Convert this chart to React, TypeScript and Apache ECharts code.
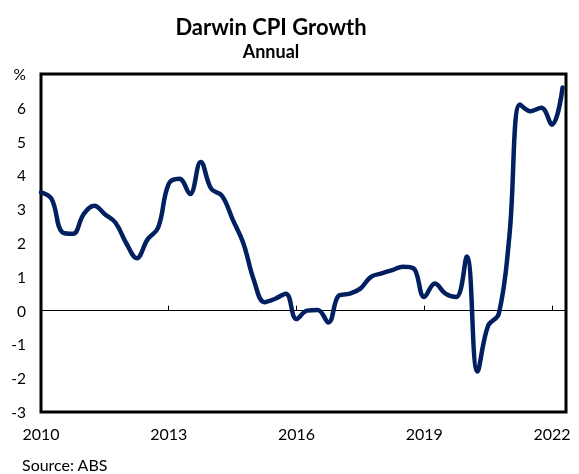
import React, { useEffect, useRef } from "react";
import * as echarts from "echarts";

const START_YEAR = 2010; // first quarter of the series (Mar 2010)
const cpiGrowth = [
  3.5, 3.3, 2.32, 2.27, 2.85, 3.1, 2.85, 2.6, 2.0, 1.55,
  2.1, 2.45, 3.75, 3.9, 3.45, 4.4, 3.6, 3.4, 2.7, 2.0,
  0.9, 0.25, 0.35, 0.5, -0.25, 0.0, 0.02, -0.35, 0.45, 0.5,
  0.65, 1.0, 1.1, 1.2, 1.3, 1.25, 0.4, 0.8, 0.5, 0.4,
  1.6, -1.8, -0.45, -0.1, 2.2, 6.1, 5.9, 6.0, 5.5, 6.6,
];
const xTickYears = [2010, 2013, 2016, 2019, 2022];
const yTicks = [-3, -2, -1, 0, 1, 2, 3, 4, 5, 6, 7];

const TITLE = "Darwin CPI Growth";
const SUBTITLE = "Annual";
const SOURCE = "Source: ABS";

export default function App() {
  const ref = useRef<HTMLDivElement>(null);
  useEffect(() => {
    if (!ref.current) return;
    const chart = echarts.init(ref.current, null, { renderer: "svg" });
    const data = cpiGrowth.map((v, i) => [START_YEAR + i * 0.25, v]);
    const font = "Lato";
    const xMin = xTickYears[0];
    const xMax = 2022.33;
    chart.setOption({
      animation: false,
      textStyle: { fontFamily: font },
      grid: {
        left: 41,
        right: 13,
        top: 74,
        bottom: 62,
        show: true,
        borderColor: "#000",
        borderWidth: 3,
        backgroundColor: "transparent",
      },
      graphic: [
        {
          type: "text",
          x: 271,
          y: 26,
          style: {
            text: TITLE,
            fontFamily: font,
            fontWeight: "bold",
            fontSize: 22,
            fill: "#000",
            textAlign: "center",
            textVerticalAlign: "middle",
          },
        },
        {
          type: "text",
          x: 271,
          y: 51,
          style: {
            text: SUBTITLE,
            fontFamily: font,
            fontWeight: "bold",
            fontSize: 18,
            fill: "#000",
            textAlign: "center",
            textVerticalAlign: "middle",
          },
        },
        {
          type: "text",
          x: 22,
          y: 464,
          style: {
            text: SOURCE,
            fontFamily: font,
            fontSize: 16,
            fill: "#000",
            textAlign: "left",
            textVerticalAlign: "middle",
          },
        },
      ],
      xAxis: [
        {
          type: "value",
          min: xMin,
          max: xMax,
          interval: 3,
          position: "bottom",
          axisLine: { show: false, onZero: false },
          axisTick: { show: false },
          splitLine: { show: false },
          axisLabel: {
            fontSize: 16,
            fontFamily: font,
            color: "#000",
            margin: 13,
            customValues: xTickYears,
            formatter: (v: number) => String(v),
          },
        },
        {
          type: "value",
          min: xMin,
          max: xMax,
          interval: 3,
          position: "bottom",
          axisLine: { show: true, onZero: true, lineStyle: { color: "#000", width: 1 } },
          axisTick: {
            show: true,
            inside: true,
            length: 5,
            lineStyle: { color: "#000", width: 1 },
            customValues: xTickYears,
          },
          axisLabel: { show: false },
          splitLine: { show: false },
        },
      ],
      yAxis: {
        type: "value",
        min: yTicks[0],
        max: yTicks[yTicks.length - 1],
        interval: 1,
        axisLine: { show: false },
        axisTick: { show: false },
        splitLine: { show: false },
        axisLabel: {
          fontSize: 15.5,
          fontFamily: font,
          color: "#000",
          margin: 15,
          formatter: (v: number) => (v === 7 ? "%" : String(v)),
        },
      },
      series: [
        {
          type: "line",
          data,
          xAxisIndex: 0,
          showSymbol: false,
          smooth: 0.4,
          lineStyle: { color: "#002060", width: 4.5, cap: "round", join: "round" },
          z: 5,
        },
      ],
    });
    return () => chart.dispose();
  }, []);
  return (
    <div
      ref={ref}
      style={{ position: "fixed", left: 0, top: 0, width: 579, height: 474 }}
    />
  );
}
